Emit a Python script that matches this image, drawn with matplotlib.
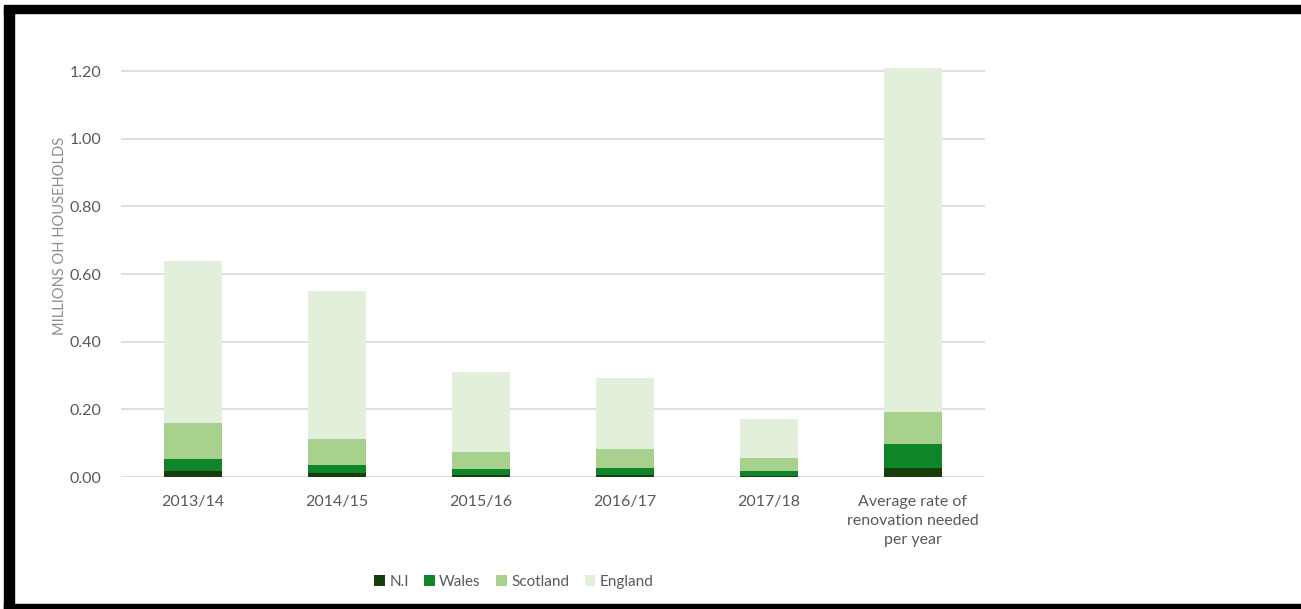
import numpy as np
import matplotlib.pyplot as plt
from matplotlib.patches import Rectangle

# Data (millions of households)
categories = ["2013/14", "2014/15", "2015/16", "2016/17", "2017/18",
              "Average rate of\nrenovation needed\nper year"]
ni = [0.017, 0.013, 0.007, 0.007, 0.004, 0.028]
wales = [0.037, 0.024, 0.017, 0.021, 0.015, 0.069]
scotland = [0.105, 0.075, 0.049, 0.055, 0.038, 0.095]
england = [0.480, 0.438, 0.237, 0.210, 0.114, 1.018]
series_names = ["N.I", "Wales", "Scotland", "England"]
yticks = [0.0, 0.2, 0.4, 0.6, 0.8, 1.0, 1.2]

colors = ["#173d0b", "#0f852a", "#a9d18e", "#e2efda"]
text_col = "#595959"

plt.rcParams['font.family'] = ['Lato', 'DejaVu Sans']

fig = plt.figure(figsize=(13.01, 6.09), dpi=100)
ax = fig.add_axes([0.093, 0.2167, 0.664, 0.675])

x = np.arange(len(categories))
bottom = np.zeros(len(categories))
for name, vals, c in zip(series_names, [ni, wales, scotland, england], colors):
    ax.bar(x, vals, width=0.4, bottom=bottom, color=c, label=name, zorder=3)
    bottom += np.array(vals)

ax.set_xlim(-0.5, len(categories) - 0.5)
ax.set_ylim(0, 1.215)
ax.set_yticks(yticks)
ax.set_yticklabels([f"{v:.2f}" for v in yticks])
for v in yticks:
    ax.axhline(v, color="#d9d9d9", lw=1.2, zorder=1)
ax.set_xticks(x)
ax.set_xticklabels(categories, linespacing=1.45)
ax.tick_params(axis='both', length=0, labelsize=11.5, colors=text_col)
ax.tick_params(axis='y', pad=14)
ax.tick_params(axis='x', pad=13)
for s in ax.spines.values():
    s.set_visible(False)

ax.set_ylabel("MILLIONS OH HOUSEHOLDS", fontsize=10.5, color="#8c8c8c")
ax.yaxis.set_label_coords(-0.063, 0.586)

fig.legend(loc='lower center', bbox_to_anchor=(0.395, 0.01), ncol=4, frameon=False,
           fontsize=11, labelcolor=text_col, handlelength=0.7, handleheight=0.7,
           handletextpad=0.3, columnspacing=1.0)

# black frame around the picture
fig.patches.append(Rectangle((0.003, 0.0), 0.008, 0.985, transform=fig.transFigure,
                             color="black", zorder=10))
fig.patches.append(Rectangle((0.003, 0.978), 0.997, 0.014, transform=fig.transFigure,
                             color="black", zorder=10))
fig.patches.append(Rectangle((0.003, 0.0), 0.997, 0.008, transform=fig.transFigure,
                             color="black", zorder=10))

fig.savefig("out.png", dpi=100)
